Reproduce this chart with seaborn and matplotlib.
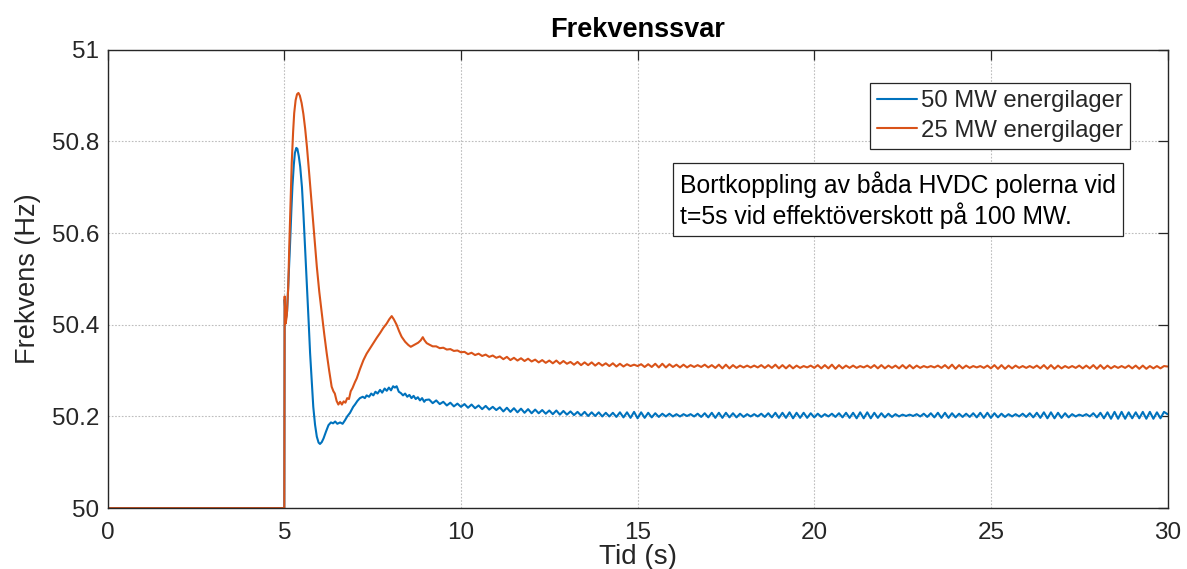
import numpy as np
import pandas as pd
import matplotlib
matplotlib.use("Agg")
import matplotlib.pyplot as plt
import seaborn as sns

# ---------------- data ----------------
series_names = ["50 MW energilager", "25 MW energilager"]
colors = ["#0072BD", "#D95319"]

# transient part, 50 MW
blue_t = [0.00, 5.00, 5.01, 5.04, 5.08, 5.12, 5.16, 5.20, 5.23, 5.27, 5.30, 5.34, 5.37, 5.41,
          5.45, 5.50, 5.54, 5.59, 5.64, 5.69, 5.73, 5.78, 5.82, 5.87, 5.92, 5.97, 6.01, 6.06,
          6.11, 6.18, 6.25, 6.32, 6.38, 6.44, 6.50, 6.58, 6.65, 6.72, 6.78, 6.86, 6.95, 7.00,
          7.07, 7.14, 7.22, 7.28, 7.33, 7.40, 7.46, 7.52, 7.58, 7.64, 7.71, 7.77, 7.84, 7.90,
          7.96, 8.02, 8.08, 8.13, 8.18, 8.24, 8.30, 8.36, 8.42, 8.48, 8.54, 8.60, 8.66, 8.72,
          8.78, 8.84, 8.90, 8.96, 9.00]
blue_f = [50.000, 50.000, 50.455, 50.410, 50.430, 50.500, 50.571, 50.650, 50.702, 50.750, 50.775,
          50.786, 50.784, 50.768, 50.745, 50.700, 50.644, 50.565, 50.483, 50.405, 50.338, 50.275,
          50.221, 50.182, 50.156, 50.143, 50.140, 50.144, 50.152, 50.167, 50.181, 50.187, 50.185,
          50.189, 50.184, 50.187, 50.184, 50.192, 50.200, 50.208, 50.221, 50.226, 50.234, 50.240,
          50.243, 50.240, 50.246, 50.243, 50.250, 50.246, 50.254, 50.250, 50.258, 50.252, 50.261,
          50.256, 50.263, 50.257, 50.266, 50.263, 50.266, 50.254, 50.251, 50.246, 50.250, 50.243,
          50.247, 50.240, 50.245, 50.238, 50.242, 50.235, 50.240, 50.232, 50.236]

# transient part, 25 MW
orange_t = [0.00, 5.00, 5.01, 5.04, 5.07, 5.11, 5.14, 5.17, 5.21, 5.25, 5.28, 5.32, 5.36, 5.40,
            5.44, 5.49, 5.54, 5.59, 5.64, 5.71, 5.78, 5.85, 5.92, 5.99, 6.06, 6.13, 6.20, 6.27,
            6.34, 6.39, 6.43, 6.48, 6.53, 6.58, 6.63, 6.68, 6.73, 6.78, 6.83, 6.88, 6.93, 7.00,
            7.05, 7.14, 7.24, 7.33, 7.43, 7.52, 7.62, 7.71, 7.80, 7.90, 7.97, 8.04, 8.10, 8.18,
            8.25, 8.32, 8.42, 8.51, 8.58, 8.65, 8.72, 8.79, 8.86, 8.92, 8.97, 9.03]
orange_f = [50.000, 50.000, 50.462, 50.403, 50.420, 50.480, 50.570, 50.650, 50.753, 50.822, 50.862,
            50.890, 50.903, 50.906, 50.900, 50.884, 50.860, 50.828, 50.789, 50.725, 50.658, 50.592,
            50.527, 50.472, 50.425, 50.380, 50.338, 50.300, 50.265, 50.255, 50.250, 50.234, 50.226,
            50.232, 50.226, 50.233, 50.230, 50.240, 50.238, 50.255, 50.262, 50.275, 50.283, 50.303,
            50.323, 50.337, 50.349, 50.360, 50.372, 50.382, 50.393, 50.403, 50.412, 50.419, 50.412,
            50.400, 50.386, 50.374, 50.363, 50.356, 50.352, 50.355, 50.358, 50.361, 50.366, 50.373,
            50.366, 50.360]

# settled part sampled every 0.1 s from 9.1 s to 30.0 s
tail_t = [round(v / 10, 1) for v in range(91, 301)]

blue_tail = [
    50.237, 50.229, 50.235, 50.227, 50.232, 50.224, 50.230, 50.222, 50.228, 50.221,
    50.227, 50.219, 50.226, 50.218, 50.224, 50.216, 50.223, 50.215, 50.221, 50.214,
    50.220, 50.211, 50.219, 50.210, 50.218, 50.209, 50.217, 50.208, 50.216, 50.207,
    50.215, 50.207, 50.214, 50.206, 50.213, 50.205, 50.213, 50.204, 50.212, 50.204,
    50.211, 50.203, 50.210, 50.202, 50.210, 50.201, 50.209, 50.201, 50.209, 50.200,
    50.208, 50.200, 50.208, 50.199, 50.209, 50.198, 50.209, 50.197, 50.210, 50.196,
    50.209, 50.197, 50.208, 50.198, 50.207, 50.199, 50.206, 50.200, 50.206, 50.200,
    50.205, 50.200, 50.205, 50.201, 50.205, 50.200, 50.206, 50.199, 50.207, 50.198,
    50.208, 50.197, 50.208, 50.197, 50.208, 50.198, 50.207, 50.198, 50.206, 50.199,
    50.205, 50.200, 50.205, 50.200, 50.206, 50.199, 50.207, 50.198, 50.208, 50.197,
    50.208, 50.197, 50.209, 50.196, 50.208, 50.197, 50.208, 50.197, 50.207, 50.198,
    50.206, 50.199, 50.205, 50.200, 50.206, 50.199, 50.207, 50.198, 50.208, 50.197,
    50.208, 50.196, 50.209, 50.196, 50.209, 50.196, 50.208, 50.197, 50.207, 50.198,
    50.206, 50.199, 50.205, 50.200, 50.204, 50.201, 50.204, 50.201, 50.205, 50.200,
    50.206, 50.199, 50.207, 50.198, 50.208, 50.197, 50.208, 50.197, 50.207, 50.198,
    50.206, 50.199, 50.206, 50.199, 50.207, 50.198, 50.208, 50.197, 50.208, 50.197,
    50.207, 50.198, 50.206, 50.199, 50.205, 50.200, 50.205, 50.200, 50.206, 50.199,
    50.207, 50.198, 50.208, 50.197, 50.209, 50.196, 50.209, 50.196, 50.208, 50.197,
    50.207, 50.198, 50.205, 50.200, 50.204, 50.201, 50.205, 50.200, 50.207, 50.198,
    50.208, 50.196, 50.209, 50.195, 50.210, 50.195, 50.210, 50.195, 50.209, 50.196,
    50.209, 50.196, 50.210, 50.195, 50.210, 50.195, 50.209, 50.196, 50.210, 50.205,
]

orange_tail = [
    50.357, 50.353, 50.353, 50.349, 50.350, 50.346, 50.347, 50.343, 50.344, 50.340,
    50.341, 50.336, 50.339, 50.334, 50.337, 50.332, 50.335, 50.330, 50.333, 50.328,
    50.331, 50.325, 50.330, 50.323, 50.328, 50.322, 50.327, 50.321, 50.326, 50.320,
    50.324, 50.318, 50.323, 50.317, 50.322, 50.316, 50.322, 50.315, 50.321, 50.315,
    50.319, 50.313, 50.319, 50.312, 50.318, 50.312, 50.318, 50.311, 50.317, 50.311,
    50.316, 50.310, 50.316, 50.309, 50.315, 50.309, 50.314, 50.310, 50.313, 50.310,
    50.314, 50.308, 50.314, 50.308, 50.315, 50.307, 50.315, 50.307, 50.314, 50.308,
    50.313, 50.307, 50.313, 50.307, 50.312, 50.308, 50.312, 50.308, 50.313, 50.307,
    50.312, 50.306, 50.313, 50.305, 50.313, 50.305, 50.312, 50.306, 50.311, 50.307,
    50.311, 50.307, 50.311, 50.307, 50.312, 50.306, 50.312, 50.306, 50.313, 50.305,
    50.312, 50.305, 50.312, 50.305, 50.311, 50.306, 50.310, 50.307, 50.311, 50.306,
    50.312, 50.305, 50.312, 50.305, 50.313, 50.304, 50.312, 50.305, 50.311, 50.306,
    50.311, 50.306, 50.310, 50.307, 50.311, 50.306, 50.312, 50.305, 50.312, 50.305,
    50.311, 50.306, 50.311, 50.305, 50.312, 50.305, 50.312, 50.305, 50.311, 50.306,
    50.310, 50.307, 50.310, 50.307, 50.311, 50.306, 50.312, 50.305, 50.313, 50.304,
    50.312, 50.305, 50.311, 50.306, 50.310, 50.307, 50.310, 50.306, 50.311, 50.305,
    50.312, 50.304, 50.312, 50.304, 50.311, 50.305, 50.311, 50.306, 50.310, 50.306,
    50.310, 50.306, 50.311, 50.305, 50.312, 50.304, 50.312, 50.304, 50.311, 50.305,
    50.310, 50.306, 50.310, 50.306, 50.311, 50.305, 50.311, 50.305, 50.312, 50.304,
    50.312, 50.304, 50.311, 50.305, 50.310, 50.306, 50.310, 50.306, 50.311, 50.305,
    50.311, 50.304, 50.311, 50.304, 50.310, 50.305, 50.310, 50.305, 50.310, 50.309,
]

x_ticks = [0, 5, 10, 15, 20, 25, 30]
y_ticks = [50.0, 50.2, 50.4, 50.6, 50.8, 51.0]
y_tick_labels = ["50", "50.2", "50.4", "50.6", "50.8", "51"]

title_text = "Frekvenssvar"
x_label = "Tid (s)"
y_label = "Frekvens (Hz)"
note_text = "Bortkoppling av båda HVDC polerna vid\nt=5s vid effektöverskott på 100 MW."

# ---------------- build long-form table ----------------
df = pd.concat([
    pd.DataFrame({"t": blue_t + tail_t, "f": blue_f + blue_tail, "serie": series_names[0]}),
    pd.DataFrame({"t": orange_t + tail_t, "f": orange_f + orange_tail, "serie": series_names[1]}),
], ignore_index=True)

# ---------------- style ----------------
sns.set_style("white")
plt.rcParams["font.family"] = ["Liberation Sans", "DejaVu Sans"]
ink = "#262626"

fig = plt.figure(figsize=(11.87, 5.69), dpi=100)
ax = fig.add_axes([0.0907, 0.107, 0.8929, 0.8054])

sns.lineplot(data=df, x="t", y="f", hue="serie", palette=colors, hue_order=series_names,
             estimator=None, sort=False, linewidth=1.5, ax=ax)

ax.set_xlim(0, 30)
ax.set_ylim(50, 51)
ax.set_xticks(x_ticks)
ax.set_xticklabels([str(v) for v in x_ticks])
ax.set_yticks(y_ticks)
ax.set_yticklabels(y_tick_labels)

ax.grid(True, color="#bdbdbd", linestyle=(0, (1.5, 1.5)), linewidth=0.8)
ax.set_axisbelow(True)
for s in ax.spines.values():
    s.set_color(ink)
    s.set_linewidth(1.0)
    s.set_visible(True)

ax.tick_params(axis="both", which="both", direction="in", length=7, width=0.9,
               colors=ink, labelsize=17.5, top=True, right=True, pad=6)
ax.tick_params(axis="x", pad=10)
for lab in ax.get_xticklabels() + ax.get_yticklabels():
    lab.set_color(ink)

ax.set_title(title_text, fontsize=19.5, fontweight="bold", color="black", pad=9)
ax.set_xlabel(x_label, fontsize=20, color=ink, labelpad=0)
ax.set_ylabel(y_label, fontsize=19.5, color=ink, labelpad=8)

leg = ax.legend(loc="upper left", bbox_to_anchor=(0.719, 0.928), fontsize=17.2,
                frameon=True, fancybox=False, framealpha=1, edgecolor=ink,
                borderpad=0.3, handlelength=1.7, handletextpad=0.15,
                labelspacing=0.32, borderaxespad=0)
leg.get_frame().set_linewidth(0.9)
for line in leg.get_lines():
    line.set_linewidth(1.5)

ax.text(0.540, 0.736, note_text, transform=ax.transAxes, ha="left", va="top",
        fontsize=17.8, color="black", linespacing=1.2,
        bbox=dict(boxstyle="square,pad=0.3", facecolor="white", edgecolor=ink, linewidth=0.9))

fig.savefig("out.png", dpi=100)
